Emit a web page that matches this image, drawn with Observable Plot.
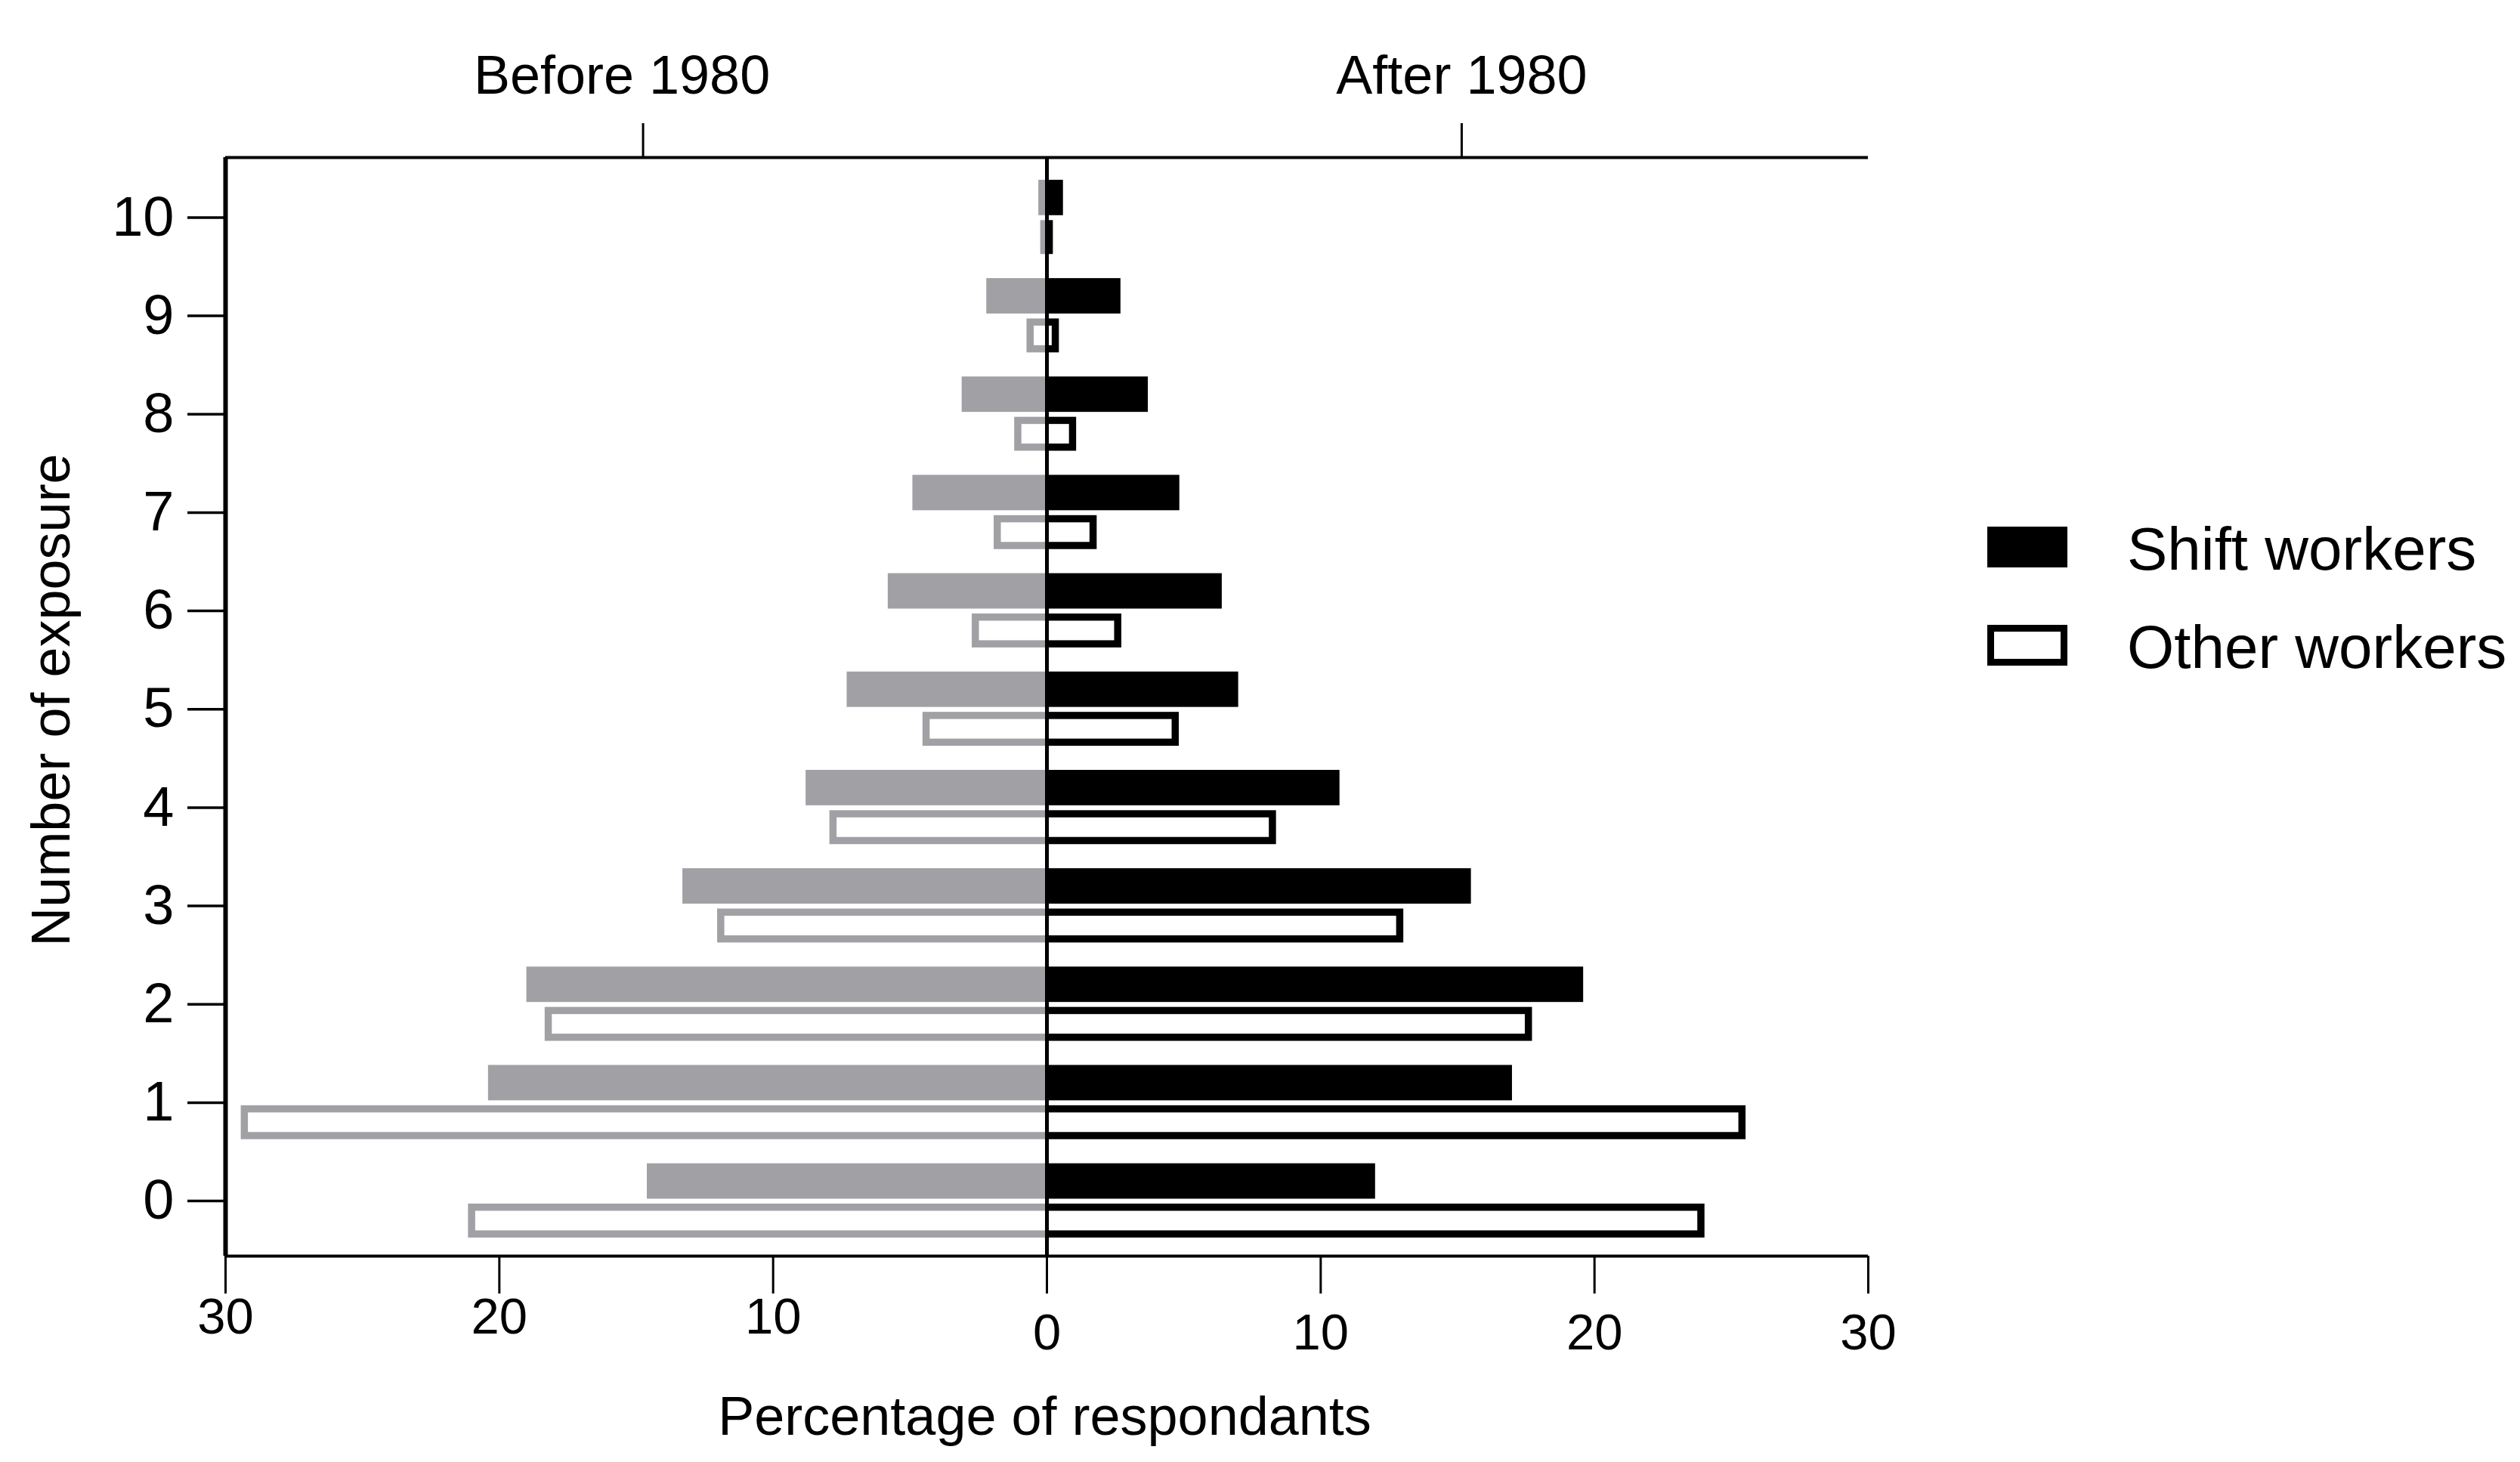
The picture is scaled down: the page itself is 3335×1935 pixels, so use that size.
<!DOCTYPE html>
<html>
<head>
<meta charset="utf-8">
<script src="https://cdn.jsdelivr.net/npm/d3@7"></script>
<script src="https://cdn.jsdelivr.net/npm/@observablehq/plot@0.6"></script>
<style>
  html, body { margin: 0; padding: 0; background: #fff; }
  #wrap { position: relative; width: 3335px; height: 1935px; font-family: "Liberation Sans", Arial, sans-serif; color: #000; }
  .leg-swatch { position: absolute; box-sizing: border-box; }
  .leg-text { position: absolute; font-size: 80px; line-height: 80px; white-space: nowrap; }
</style>
</head>
<body>
<div id="wrap"></div>
<script>
// ---- data ----
const exposure = [0, 1, 2, 3, 4, 5, 6, 7, 8, 9, 10];
const beforeShift = [14.6, 20.4, 19.0, 13.3, 8.8, 7.3, 5.8, 4.9, 3.1, 2.2, 0.3];
const beforeOther = [21.0, 29.3, 18.2, 11.9, 7.8, 4.4, 2.6, 1.8, 1.05, 0.6, 0.1];
const afterShift  = [12.0, 17.0, 19.6, 15.5, 10.7, 7.0, 6.4, 4.85, 3.7, 2.7, 0.6];
const afterOther  = [23.9, 25.4, 17.6, 12.9, 8.25, 4.7, 2.6, 1.7, 0.95, 0.32, 0.1];
const xTicks = [-30, -20, -10, 0, 10, 20, 30];
const periodLabels = ["Before 1980", "After 1980"];
const periodTicks = [-14.75, 15.15];
const legendLabels = ["Shift workers", "Other workers"];
const xTitle = "Percentage of respondants";
const yTitle = "Number of exposure";

// ---- layout / style ----
const W = 3335, H = 1935;
const frameL = 298, frameR = 2472, frameT = 208, frameB = 1662;
const GRAY = "#a1a1a5";
const SW = 9.5;           // outline width of "other workers" bars
const yDomain = [-0.56, 10.61];

const table = exposure.map((k, i) => ({
  k,
  bs: beforeShift[i], bo: beforeOther[i],
  as: afterShift[i],  ao: afterOther[i]
}));

// vertical offsets of the two bars in each group (in y units)
const shiftY1 = d => d.k + 0.02, shiftY2 = d => d.k + 0.38;
const otherY1 = d => d.k - 0.03, otherY2 = d => d.k - 0.375;

const fontFamily = "'Liberation Sans', Arial, sans-serif";

const chart = Plot.plot({
  width: W,
  height: H,
  marginLeft: frameL,
  marginRight: W - frameR,
  marginTop: frameT,
  marginBottom: H - frameB,
  style: { fontFamily, background: "#fff", color: "#000" },
  x: { domain: [-30, 30], label: null },
  y: { domain: yDomain, label: null },
  marks: [
    // shift workers (solid)
    Plot.rectX(table, { x1: d => -d.bs, x2: 0, y1: shiftY1, y2: shiftY2, fill: GRAY }),
    Plot.rectX(table, { x1: 0, x2: d => d.as, y1: shiftY1, y2: shiftY2, fill: "#000" }),
    // other workers (outlined): outer coloured rect then inner white rect
    Plot.rectX(table, { x1: d => -d.bo, x2: 0, y1: otherY1, y2: otherY2, fill: GRAY, insetLeft: -SW / 2 }),
    Plot.rectX(table, { x1: 0, x2: d => d.ao, y1: otherY1, y2: otherY2, fill: "#000", insetRight: -SW / 2 }),
    Plot.rectX(table, { x1: d => -d.bo, x2: 0, y1: otherY1, y2: otherY2, fill: "#fff", insetLeft: SW / 2, insetTop: SW, insetBottom: SW }),
    Plot.rectX(table, { x1: 0, x2: d => d.ao, y1: otherY1, y2: otherY2, fill: "#fff", insetRight: SW / 2, insetTop: SW, insetBottom: SW }),

    // frame lines
    Plot.ruleX([-30], { stroke: "#000", strokeWidth: 6 }),
    Plot.ruleX([0], { stroke: "#000", strokeWidth: 5 }),
    Plot.ruleY([yDomain[1]], { stroke: "#000", strokeWidth: 4 }),
    Plot.ruleY([yDomain[0]], { stroke: "#000", strokeWidth: 4 }),

    // y axis
    Plot.axisY({
      ticks: exposure, tickSize: 50, tickPadding: 18, fontSize: 74,
      tickFormat: d => String(d), strokeWidth: 3.5, label: null
    }),

    // bottom axis: tick marks
    Plot.axisX({
      anchor: "bottom", ticks: xTicks, tickSize: 50, strokeWidth: 3,
      tickFormat: () => null, label: null
    }),
    // bottom axis labels (left part sits slightly higher, as in the reference)
    Plot.axisX({
      anchor: "bottom", ticks: xTicks.filter(t => t < 0), tickSize: 0, tickPadding: 55,
      fontSize: 67, tickFormat: d => String(Math.abs(d)), label: null
    }),
    Plot.axisX({
      anchor: "bottom", ticks: xTicks.filter(t => t >= 0), tickSize: 0, tickPadding: 76,
      fontSize: 67, tickFormat: d => String(Math.abs(d)), label: null
    }),

    // top axis: period ticks
    Plot.axisX({
      anchor: "top", ticks: periodTicks, tickSize: 46, strokeWidth: 3,
      tickFormat: () => null, label: null
    }),
    // top axis: period labels
    Plot.axisX({
      anchor: "top", ticks: [periodTicks[0]], tickSize: 0, tickPadding: 85,
      fontSize: 72, dx: -28, tickFormat: () => periodLabels[0], lineAnchor: "bottom", label: null
    }),
    Plot.axisX({
      anchor: "top", ticks: [periodTicks[1]], tickSize: 0, tickPadding: 85,
      fontSize: 72, tickFormat: () => periodLabels[1], lineAnchor: "bottom", label: null
    }),

    // axis titles
    Plot.text([xTitle], {
      frameAnchor: "bottom", text: d => d, fontSize: 72, lineAnchor: "bottom",
      dy: 1898 - frameB, dx: -3
    }),
    Plot.text([yTitle], {
      frameAnchor: "left", text: d => d, fontSize: 72, rotate: -90, lineAnchor: "top",
      textAnchor: "middle", dx: 40 - frameL, dy: -9
    })
  ]
});

const wrap = document.getElementById("wrap");
wrap.appendChild(chart);

// legend
const legendItems = [
  { label: legendLabels[0], top: 697, style: "background:#000;" },
  { label: legendLabels[1], top: 827, style: "background:#fff;border:9.5px solid #000;" }
];
legendItems.forEach(item => {
  const sw = document.createElement("div");
  sw.className = "leg-swatch";
  sw.style.cssText = `left:2630px;top:${item.top}px;width:106px;height:54px;` + item.style;
  wrap.appendChild(sw);
  const tx = document.createElement("div");
  tx.className = "leg-text";
  tx.style.left = "2815px";
  tx.style.top = (item.top - 10) + "px";
  tx.textContent = item.label;
  wrap.appendChild(tx);
});
</script>
</body>
</html>
